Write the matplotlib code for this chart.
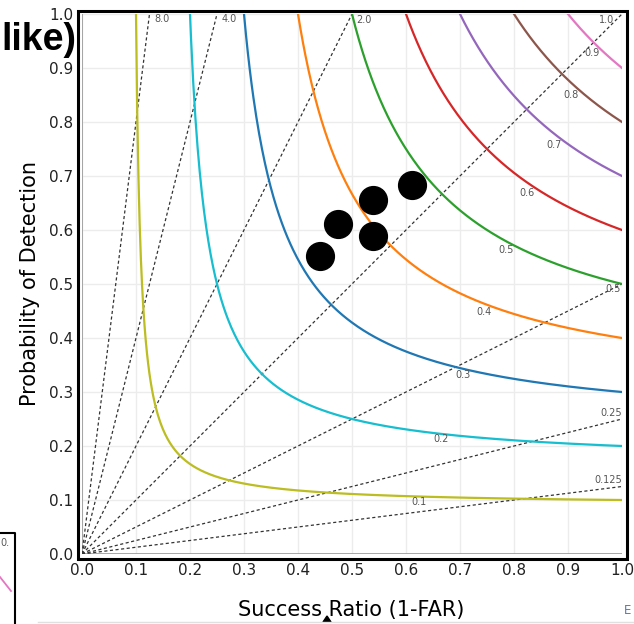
import numpy as np
import matplotlib
matplotlib.use("Agg")
from matplotlib import pyplot as plt
from matplotlib.patches import Rectangle, Polygon
from matplotlib.lines import Line2D

# critical success index contours and frequency bias lines
csi_levels = [0.1, 0.2, 0.3, 0.4, 0.5, 0.6, 0.7, 0.8, 0.9]
csi_colors = ['#bcbd22', '#17becf', '#1f77b4', '#ff7f0e', '#2ca02c',
              '#d62728', '#9467bd', '#8c564b', '#e377c2']
csi_label_sr = [0.624, 0.665, 0.706, 0.744, 0.785, 0.824, 0.874, 0.906, 0.944]
csi_label_pod = [0.096, 0.213, 0.331, 0.448, 0.563, 0.669, 0.757, 0.850, 0.928]

bias_levels = [8.0, 4.0, 2.0, 1.0, 0.5, 0.25, 0.125]
bias_labels = ['8.0', '4.0', '2.0', '1.0', '0.5', '0.25', '0.125']
bias_label_sr = [0.148, 0.272, 0.522, 0.972, 0.983, 0.980, 0.974]
bias_label_pod = [0.991, 0.991, 0.989, 0.989, 0.491, 0.261, 0.137]

# verification scores (success ratio, probability of detection)
sr_points = [0.441, 0.474, 0.539, 0.539, 0.612]
pod_points = [0.551, 0.611, 0.656, 0.589, 0.683]

ticks = [0.0, 0.1, 0.2, 0.3, 0.4, 0.5, 0.6, 0.7, 0.8, 0.9, 1.0]

W, H = 634, 624


def fx(px):
    return px / W


def fy(py):
    return 1 - py / H


fig = plt.figure(figsize=(W / 100, H / 100), dpi=100)
ax = fig.add_axes([fx(82), fy(554), 540 / W, 540 / H])
ax.set_xlim(0, 1)
ax.set_ylim(0, 1)
for s in ax.spines.values():
    s.set_visible(False)

ax.set_xticks(ticks)
ax.set_yticks(ticks)
ax.set_xticklabels(['%.1f' % t for t in ticks])
ax.set_yticklabels(['%.1f' % t for t in ticks])
ax.tick_params(length=0, labelsize=11, pad=6.5, colors='#222222')
ax.grid(True, color='#ececec', lw=1)
ax.set_axisbelow(True)
ax.axhline(0, color='#999999', lw=1.2, zorder=1)
ax.axvline(0, color='#999999', lw=1.2, zorder=1)

# bias lines from the origin
for b, lab, lx, ly in zip(bias_levels, bias_labels, bias_label_sr, bias_label_pod):
    sr = np.array([0, min(1.0, 1.0 / b)])
    ax.plot(sr, b * sr, color='#333333', lw=0.9, ls=(0, (2.5, 2)), zorder=2)
    ax.text(lx, ly, lab, fontsize=7, color='#555555', ha='center', va='center', zorder=4)

# CSI curves
for c, col, lx, ly in zip(csi_levels, csi_colors, csi_label_sr, csi_label_pod):
    sr = np.linspace(c, 1.0, 400)
    pod = 1.0 / (1.0 / c - 1.0 / sr + 1.0)
    ax.plot(sr, pod, color=col, lw=1.6, zorder=3)
    ax.text(lx, ly, '%.1f' % c, fontsize=7, color='#555555', ha='center', va='center', zorder=4)

ax.plot(sr_points, pod_points, 'o', color='black', ms=20, zorder=5)

# outer frame
fig.patches.append(Rectangle((fx(78), fy(559)), (627 - 78) / W, (559 - 11) / H,
                             transform=fig.transFigure, fill=False, ec='black', lw=2.2))

fig.text(fx(351), fy(610), 'Success Ratio (1-FAR)', fontsize=15, ha='center', va='center')
fig.text(fx(30), fy(284), 'Probability of Detection', fontsize=15, rotation=90,
         ha='center', va='center')

# heading fragment and neighbouring panel edge
fig.text(fx(1), fy(50), 'like)', fontsize=27, fontweight='bold', ha='left',
         va='baseline', family='Liberation Sans')
fig.lines.append(Line2D([fx(0), fx(15), fx(15)], [fy(533), fy(533), fy(624)],
                        transform=fig.transFigure, color='black', lw=1.5))
fig.lines.append(Line2D([fx(0), fx(11)], [fy(577), fy(591)],
                        transform=fig.transFigure, color='#e377c2', lw=1.3))
fig.text(fx(0), fy(543), '0.', fontsize=7, color='#555555', va='center')
fig.lines.append(Line2D([fx(38), fx(634)], [fy(621.5), fy(621.5)],
                        transform=fig.transFigure, color='#e0e0e0', lw=1))
fig.text(fx(624), fy(610), 'E', fontsize=8.5, color='#4a7bd0', va='center')
fig.patches.append(Polygon([[fx(327), fy(616)], [fx(323), fy(622)], [fx(331), fy(622)]],
                           closed=True, transform=fig.transFigure, color='black'))

fig.savefig('out.png', dpi=100)
